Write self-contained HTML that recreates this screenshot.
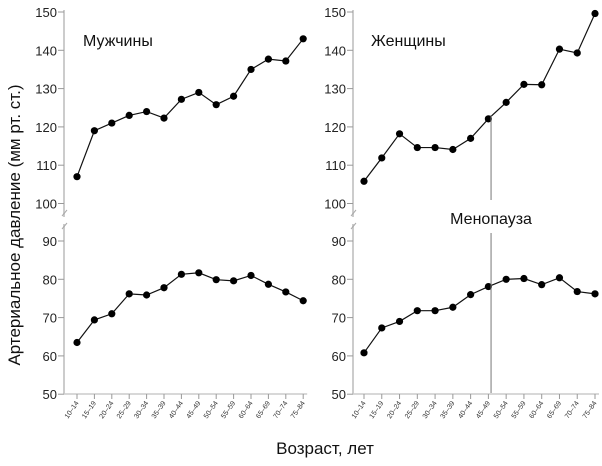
<!DOCTYPE html>
<html><head><meta charset="utf-8"><style>
body{margin:0;background:#fff}
svg{display:block;font-family:"Liberation Sans","DejaVu Sans",sans-serif}
</style></head><body>
<svg id="c" width="602" height="466"></svg>
<script>
const categories=["10–14","15–19","20–24","25–29","30–34","35–39","40–44","45–49","50–54","55–59","60–64","65–69","70–74","75–84"];
const menSystolic=[107,119,121,123,124,122.3,127.2,129,125.8,128,135,137.7,137.2,143];
const menDiastolic=[63.5,69.4,71,76.2,75.9,77.8,81.3,81.7,79.9,79.6,81,78.7,76.7,74.4];
const womenSystolic=[105.8,111.9,118.2,114.6,114.6,114.1,117,122.1,126.4,131.1,131,140.3,139.3,149.6];
const womenDiastolic=[60.8,67.3,69,71.8,71.8,72.7,76,78.1,80,80.2,78.6,80.4,76.8,76.2];
const upperTicks=[100,110,120,130,140,150];
const lowerTicks=[50,60,70,80,90];
const menopauseIndex=7.15;

const NS="http://www.w3.org/2000/svg";
const svg=document.getElementById('c');
function el(t,a,p){const e=document.createElementNS(NS,t);for(const k in a)e.setAttribute(k,a[k]);(p||svg).appendChild(e);return e;}
const yUp=v=>12+(150-v)*3.83;
const yLo=v=>241+(90-v)*3.83;

function panel(name,axisX,x0,step,sys,dia,title,titleX){
  const g=el('g',{});
  
  
  const xs=i=>x0+i*step;
  // axes
  const a1=el('line',{x1:axisX,y1:10,x2:axisX,y2:217,stroke:'#ccc','stroke-width':2},g);
  
  const a2=el('line',{x1:axisX,y1:224,x2:axisX,y2:394,stroke:'#ccc','stroke-width':2},g);
  
  el('line',{x1:axisX-2,y1:216,x2:axisX+3,y2:210,stroke:'#aaa','stroke-width':1},g);
  el('line',{x1:axisX-2,y1:229,x2:axisX+3,y2:223,stroke:'#aaa','stroke-width':1},g);
  const xa=el('line',{x1:axisX,y1:394,x2:xs(13)+4,y2:394,stroke:'#ccc','stroke-width':1.5},g);
  
  upperTicks.forEach(v=>{
    el('line',{x1:axisX-6,y1:yUp(v),x2:axisX,y2:yUp(v),stroke:'#999'},g);
    const t=el('text',{x:axisX-7,y:yUp(v)+5,'text-anchor':'end','font-size':13,fill:'#222'},g);t.textContent=v;
    
  });
  lowerTicks.forEach(v=>{
    el('line',{x1:axisX-6,y1:yLo(v),x2:axisX,y2:yLo(v),stroke:'#999'},g);
    const t=el('text',{x:axisX-7,y:yLo(v)+5,'text-anchor':'end','font-size':13,fill:'#222'},g);t.textContent=v;
    
  });
  categories.forEach((c,i)=>{
    el('line',{x1:xs(i),y1:394,x2:xs(i),y2:399,stroke:'#999'},g);
    const t=el('text',{x:xs(i)+2,y:403,'text-anchor':'end','font-size':7,fill:'#333',transform:`rotate(-55 ${xs(i)+2} 403)`},g);
    t.textContent=c;
    
  });
  [[sys,yUp,'systolic'],[dia,yLo,'diastolic']].forEach(([d,f,n])=>{
    const l=el('polyline',{points:d.map((v,i)=>xs(i)+','+f(v)).join(' '),fill:'none',stroke:'#111','stroke-width':1.2},g);
    
    d.forEach((v,i)=>{
      const p=el('circle',{cx:xs(i),cy:f(v),r:3.6,fill:'#000'},g);
      
    });
  });
  const tt=el('text',{x:titleX,y:46,'font-size':16,fill:'#111'},g);tt.textContent=title;
  
  return xs;
}
panel('men',64,77,17.4,menSystolic,menDiastolic,'Мужчины',83);
const wx=panel('women',353,364,17.77,womenSystolic,womenDiastolic,'Женщины',371);
const mx=wx(menopauseIndex);
const m1=el('line',{x1:mx,y1:115,x2:mx,y2:200,stroke:'#777','stroke-width':1});

const m2=el('line',{x1:mx,y1:233,x2:mx,y2:393,stroke:'#777','stroke-width':1});

const ml=el('text',{x:mx,y:224,'text-anchor':'middle','font-size':16,fill:'#111'});ml.textContent='Менопауза';

const yt=el('text',{x:20,y:225,'text-anchor':'middle','font-size':17,fill:'#111',transform:'rotate(-90 20 225)'});yt.textContent='Артериальное давление (мм рт. ст.)';

const xt=el('text',{x:325,y:454,'text-anchor':'middle','font-size':17,fill:'#111'});xt.textContent='Возраст, лет';

</script>
</body></html>
